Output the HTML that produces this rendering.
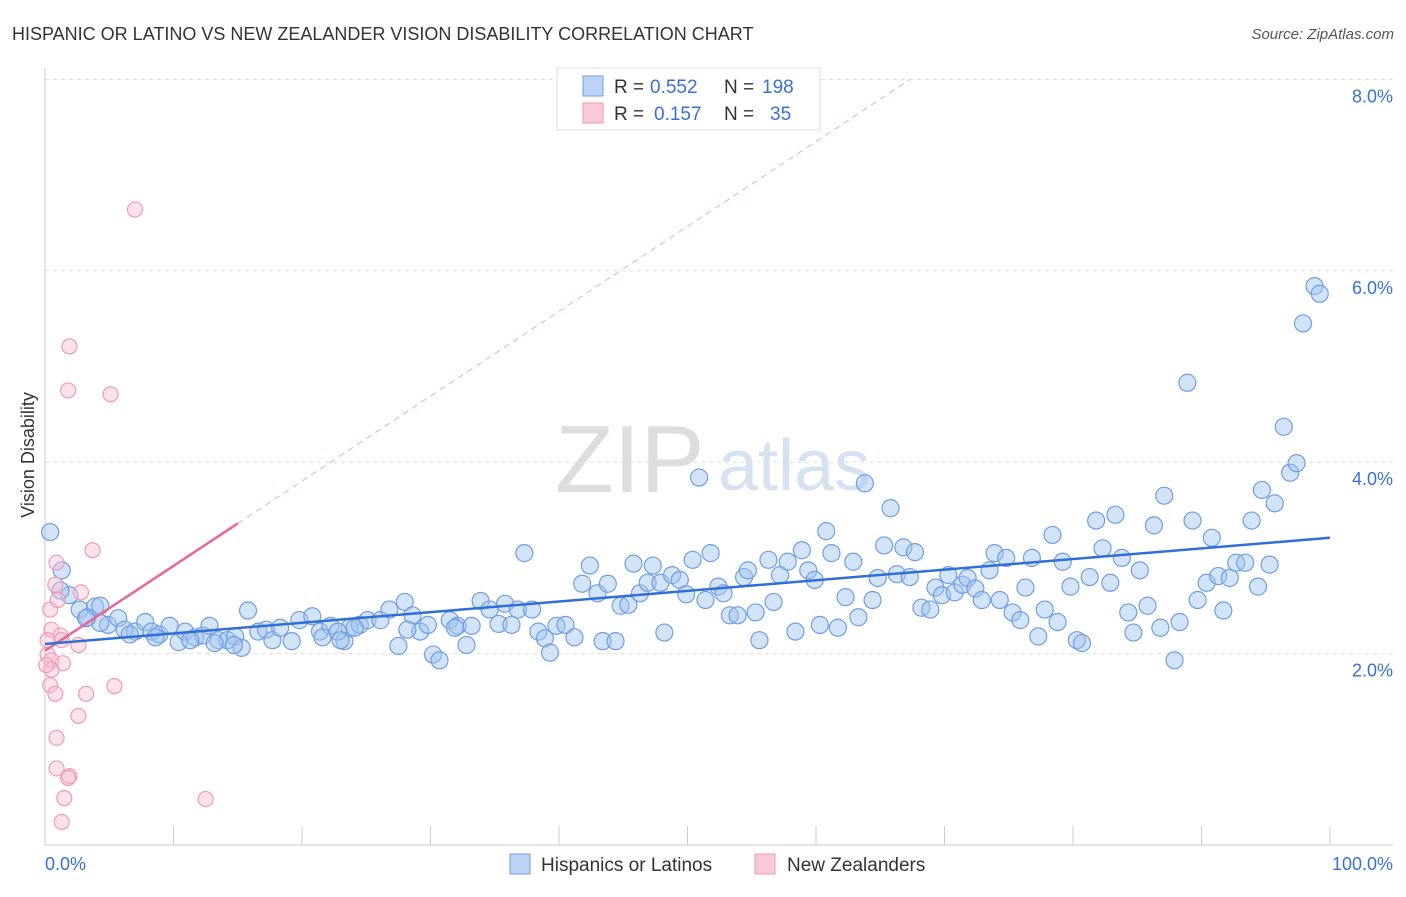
<!DOCTYPE html>
<html><head><meta charset="utf-8"><style>
body{margin:0;background:#fff;font-family:"Liberation Sans",sans-serif;}
svg text{font-family:"Liberation Sans",sans-serif;}
</style></head><body>
<svg width="1406" height="892" xmlns="http://www.w3.org/2000/svg">
<text x="12" y="40" font-size="18" fill="#333">HISPANIC OR LATINO VS NEW ZEALANDER VISION DISABILITY CORRELATION CHART</text>
<text x="1394" y="39" font-size="15" fill="#555" text-anchor="end" font-style="italic">Source: ZipAtlas.com</text>
<text x="555" y="492" font-size="96" fill="#ddd" font-family="Liberation Serif">ZIP</text>
<text x="718" y="490" font-size="72" fill="#d6e2f2">atlas</text>
<g id="grid"></g>
<g id="axes"></g>
<g id="marks"></g>
<text transform="translate(34,455) rotate(-90)" font-size="18" fill="#333" text-anchor="middle">Vision Disability</text>
<text x="45" y="870" font-size="18" fill="#3b6fd4">0.0%</text>
<text x="1393" y="870" font-size="18" fill="#3b6fd4" text-anchor="end">100.0%</text>
<g>
<rect x="557" y="68" width="263" height="62" fill="#fff" stroke="#ddd"/>
<rect x="583" y="76" width="20" height="20" fill="#bcd3f5" stroke="#6f9ee6"/>
<rect x="583" y="103" width="20" height="20" fill="#f9c9d8" stroke="#ee9ab4"/>
<text x="614" y="93" font-size="19" fill="#333">R =</text>
<text x="650" y="93" font-size="19" fill="#3b6fd4">0.552</text>
<text x="724" y="93" font-size="19" fill="#333">N =</text>
<text x="762" y="93" font-size="19" fill="#3b6fd4">198</text>
<text x="614" y="120" font-size="19" fill="#333">R =</text>
<text x="654" y="120" font-size="19" fill="#3b6fd4">0.157</text>
<text x="724" y="120" font-size="19" fill="#333">N =</text>
<text x="770" y="120" font-size="19" fill="#3b6fd4">35</text>
</g>
<g>
<rect x="510" y="854" width="20" height="20" fill="#bcd3f5" stroke="#6f9ee6"/>
<text x="541" y="871" font-size="19" fill="#333">Hispanics or Latinos</text>
<rect x="755" y="854" width="20" height="20" fill="#f9c9d8" stroke="#ee9ab4"/>
<text x="787" y="871" font-size="19" fill="#333">New Zealanders</text>
</g>
</svg>
<script>
const yTicks=[2,4,6,8];
const yTickLabels=["2.0%","4.0%","6.0%","8.0%"];
const xTicks=[0,10,20,30,40,50,60,70,80,90,100];
const blueX=[0.4,1.3,1.9,2.7,3.3,3.9,4.3,4.9,5.7,6.2,7.0,7.8,8.3,8.9,9.7,10.4,10.9,11.7,12.3,12.8,13.5,14.2,14.8,15.3,15.8,16.6,17.2,17.7,18.3,19.2,19.8,20.8,21.4,22.2,23.3,23.7,24.5,25.1,26.1,26.8,27.5,28.0,28.6,29.2,29.8,30.2,30.7,31.5,32.1,32.8,33.2,33.9,34.6,35.3,35.8,36.3,36.8,37.3,37.9,38.4,38.9,39.3,39.8,40.5,41.2,41.8,42.4,43.0,43.4,43.8,44.4,44.8,45.4,45.8,46.3,46.9,47.3,47.9,48.2,48.8,49.4,49.9,50.4,50.9,51.4,51.8,52.4,52.8,53.3,53.9,54.4,54.7,55.3,55.6,56.3,56.7,57.2,57.8,58.4,58.9,59.4,59.9,60.3,60.8,61.2,61.7,62.3,62.9,63.3,63.8,64.4,64.8,65.3,65.8,66.3,66.8,67.3,67.7,68.2,68.9,69.3,69.8,70.3,70.8,71.4,71.8,72.4,72.9,73.5,73.9,74.3,74.8,75.3,75.9,76.3,76.8,77.3,77.8,78.4,78.8,79.2,79.8,80.3,80.7,81.3,81.8,82.3,82.9,83.3,83.8,84.3,84.7,85.2,85.8,86.3,86.8,87.1,87.9,88.3,88.9,89.3,89.7,90.4,90.8,91.3,91.7,92.2,92.7,93.4,93.9,94.4,94.7,95.3,95.7,96.4,96.9,97.4,97.9,98.8,99.2,4.3,6.6,8.6,11.3,13.2,14.7,21.6,22.8,24.1,28.2,31.9,23.0,1.2,3.2];
const blueY=[3.27,2.87,2.61,2.46,2.38,2.49,2.50,2.30,2.37,2.25,2.23,2.33,2.23,2.20,2.29,2.12,2.23,2.17,2.19,2.29,2.14,2.14,2.18,2.06,2.45,2.23,2.25,2.14,2.27,2.13,2.35,2.39,2.23,2.29,2.13,2.27,2.30,2.35,2.35,2.46,2.08,2.54,2.40,2.23,2.30,1.99,1.93,2.35,2.29,2.09,2.29,2.55,2.46,2.31,2.52,2.30,2.46,3.05,2.46,2.23,2.16,2.01,2.29,2.30,2.17,2.73,2.92,2.63,2.13,2.73,2.13,2.50,2.51,2.94,2.63,2.74,2.92,2.74,2.22,2.82,2.77,2.62,2.98,3.84,2.56,3.05,2.70,2.63,2.40,2.40,2.80,2.87,2.43,2.14,2.98,2.54,2.82,2.96,2.23,3.08,2.87,2.77,2.30,3.28,3.05,2.27,2.59,2.96,2.38,3.78,2.56,2.79,3.13,3.52,2.83,3.11,2.80,3.06,2.48,2.46,2.69,2.61,2.82,2.64,2.72,2.79,2.68,2.56,2.87,3.05,2.56,3.00,2.43,2.35,2.69,3.00,2.18,2.46,3.24,2.33,2.96,2.70,2.14,2.11,2.80,3.39,3.10,2.74,3.45,3.00,2.43,2.22,2.87,2.50,3.34,2.27,3.65,1.93,2.33,4.83,3.39,2.56,2.74,3.21,2.81,2.45,2.79,2.95,2.95,3.39,2.70,3.71,2.93,3.57,4.37,3.89,3.99,5.45,5.84,5.76,2.32,2.20,2.17,2.14,2.11,2.09,2.17,2.23,2.27,2.25,2.27,2.14,2.66,2.37];
const pinkX=[7.0,1.9,1.8,5.1,3.7,0.9,0.8,2.8,0.4,1.0,0.5,1.2,1.3,2.6,0.2,0.5,1.4,0.5,0.4,0.8,3.2,5.4,2.6,0.9,0.9,1.9,1.8,1.5,1.3,12.5,0.2,0.1];
const pinkY=[6.64,5.21,4.75,4.71,3.08,2.95,2.72,2.64,2.46,2.56,2.25,2.19,2.14,2.09,1.99,1.93,1.90,1.83,1.67,1.58,1.58,1.66,1.35,1.12,0.80,0.72,0.70,0.49,0.24,0.48,2.14,1.88];
const blueTrend=[2.1,3.21];
const pinkTrend=[2.03,3.36];
const pinkTrendEndX=15;

const NS="http://www.w3.org/2000/svg";
const X0=45,X1=1330,Y0=845,PY=95.7;
const sx=v=>X0+(X1-X0)*v/100;
const sy=v=>Y0-v*PY;
function mk(tag,attrs,parent){const e=document.createElementNS(NS,tag);for(const k in attrs)e.setAttribute(k,attrs[k]);document.getElementById(parent).appendChild(e);return e;}
yTicks.forEach((t,i)=>{
 const l=mk('line',{x1:45,x2:1393,y1:sy(t),y2:sy(t),stroke:'#ddd','stroke-dasharray':'4,4'},'grid');
 
 
 const tx=mk('text',{x:1393,y:sy(t)+23,'font-size':18,fill:'#3b6fd4','text-anchor':'end'},'grid');
 tx.textContent=yTickLabels[i];
 
 
});
const ax=mk('line',{x1:45,x2:1393,y1:845,y2:845,stroke:'#ccc'},'axes');


const ay=mk('line',{x1:45,x2:45,y1:68,y2:845,stroke:'#ccc'},'axes');


xTicks.forEach(t=>{
 const l=mk('line',{x1:sx(t),x2:sx(t),y1:826,y2:845,stroke:'#ccc'},'axes');
 
 
});
blueX.forEach((v,i)=>{
 const c=mk('circle',{cx:sx(v),cy:sy(blueY[i]),r:8.5,fill:'rgba(160,195,240,0.45)',stroke:'#6f9ee6','stroke-width':1.2},'marks');
 
 
});
pinkX.forEach((v,i)=>{
 const c=mk('circle',{cx:sx(v),cy:sy(pinkY[i]),r:7.5,fill:'rgba(248,190,210,0.45)',stroke:'#ee9ab4','stroke-width':1.2},'marks');
 
 
});
const slope=(pinkTrend[1]-pinkTrend[0])/pinkTrendEndX;
const xAt8=(8.0-pinkTrend[0])/slope;
const pd=mk('line',{x1:sx(pinkTrendEndX),y1:sy(pinkTrend[1]),x2:sx(xAt8),y2:sy(8.0),stroke:'#eeaac0','stroke-dasharray':'6,5'},'marks');


const pt=mk('line',{x1:sx(0),y1:sy(pinkTrend[0]),x2:sx(pinkTrendEndX),y2:sy(pinkTrend[1]),stroke:'#e8679a','stroke-width':2.5},'marks');


const bt=mk('line',{x1:sx(0),y1:sy(blueTrend[0]),x2:sx(100),y2:sy(blueTrend[1]),stroke:'#2f6fd6','stroke-width':2.5},'marks');


</script>
</body></html>
